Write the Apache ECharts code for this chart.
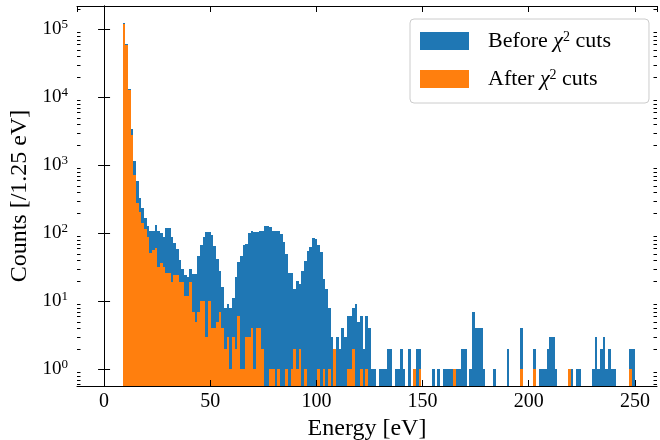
<!DOCTYPE html>
<html>
<head>
<meta charset="utf-8">
<script src="https://cdn.jsdelivr.net/npm/echarts@6/dist/echarts.min.js"></script>
<style>
  html, body { margin: 0; padding: 0; background: #fff; }
  #chart { width: 660px; height: 440px; }
</style>
</head>
<body>
<div id="chart"></div>
<script>
// histogram binning (eV)
const binStart = 8.75
const binWidth = 1.256

// counts per bin, before chi2 cuts (bin 0 starts at binStart)
const beforeCounts = [
  124000, 60000, 13200, 3400, 1150, 590, 330, 236, 167, 128,
  109, 109, 132, 109, 102, 89, 120, 120, 89, 71,
  59, 40, 30, 24, 23, 30, 25, 25, 46, 67,
  87, 104, 104, 95, 65, 42, 28, 16, 8, 9,
  8, 11, 23, 38, 46, 67, 69, 99, 108, 104,
  104, 108, 108, 128, 128, 125, 108, 108, 108, 97,
  73, 50, 26, 26, 15, 20, 18, 28, 39, 55,
  63, 85, 82, 67, 53, 21, 15, 8, 3, 2,
  3, 2, 4, 3, 6, 6, 8, 9, 5, 6,
  2, 6, 4, 1, 1, 0, 1, 1, 1, 2,
  2, 0, 1, 1, 2, 1, 0, 2, 0, 1,
  2, 2, 0, 0, 0, 0, 1, 0, 1, 0,
  1, 1, 1, 1, 1, 1, 1, 2, 2, 0,
  1, 7, 4, 4, 4, 1, 0, 0, 0, 1,
  0, 0, 0, 0, 2, 0, 0, 0, 0, 4,
  0, 0, 0, 0, 2, 0, 1, 1, 1, 2,
  3, 3, 1, 0, 0, 0, 0, 1, 1, 0,
  1, 1, 0, 0, 0, 0, 1, 3, 1, 2,
  3, 1, 2, 1, 1, 0, 0, 0, 0, 0,
  2, 2
]

// counts per bin, after chi2 cuts
const afterCounts = [
  119000, 57500, 12600, 2800, 720, 282, 208, 143, 115, 89,
  52, 57, 61, 32, 37, 32, 26, 26, 19, 24,
  24, 19, 19, 12, 12, 19, 7, 5, 7, 10,
  10, 3, 10, 4, 4, 5, 7, 4, 2, 3,
  1, 3, 2, 6, 1, 1, 3, 3, 4, 1,
  4, 4, 2, 0, 0, 1, 1, 0, 1, 0,
  0, 1, 0, 1, 2, 1, 2, 0, 1, 0,
  0, 0, 0, 1, 0, 1, 0, 1, 0, 2,
  0, 0, 0, 0, 1, 1, 2, 0, 0, 1,
  0, 1, 0, 0, 0, 0, 0, 0, 0, 0,
  0, 0, 0, 0, 0, 0, 0, 0, 0, 1,
  0, 1, 0, 0, 0, 0, 0, 0, 0, 0,
  0, 0, 0, 0, 1, 0, 0, 0, 0, 0,
  0, 0, 0, 0, 0, 0, 0, 0, 0, 0,
  0, 0, 0, 0, 0, 0, 0, 0, 0, 1,
  0, 0, 0, 0, 1, 0, 0, 0, 0, 0,
  0, 0, 0, 0, 0, 0, 0, 1, 0, 0,
  0, 0, 0, 0, 0, 0, 0, 0, 0, 0,
  0, 0, 0, 0, 0, 0, 0, 0, 0, 0,
  1, 0
]

const seriesNames = ['Before', 'After']

// minor tick positions of the log axis
const minorTicks = [
  0.6, 0.7, 0.8, 0.9,
  2, 3, 4, 5, 6, 7, 8, 9,
  20, 30, 40, 50, 60, 70, 80, 90,
  200, 300, 400, 500, 600, 700, 800, 900,
  2000, 3000, 4000, 5000, 6000, 7000, 8000, 9000,
  20000, 30000, 40000, 50000, 60000, 70000, 80000, 90000,
  200000
]

const xMin = -12.75
const xMax = 260.4
const yMin = 0.568
const yMax = 218000
const font = 'Liberation Serif'

// 直方图的数据点 [左边界, 计数]
const toBins = (counts) => {
  const out = []
  counts.forEach((c, i) => {
    if (c > 0) out.push([binStart + i * binWidth, c])
  })
  return out
}

const renderBar = (params, api) => {
  const x0 = api.value(0)
  const count = api.value(1)
  const p1 = api.coord([x0, count])
  const p2 = api.coord([x0 + binWidth, count])
  const cs = params.coordSys
  const left = Math.round(p1[0])
  const right = Math.round(p2[0])
  const top = Math.round(p1[1])
  return {
    type: 'rect',
    shape: { x: left, y: top, width: right - left, height: cs.y + cs.height - top },
    style: { fill: api.visual('color') }
  }
}

const renderMinorTick = (params, api) => {
  const cs = params.coordSys
  const y = Math.round(api.coord([0, api.value(1)])[1]) + 0.5
  const st = { stroke: '#000', lineWidth: 1 }
  return {
    type: 'group',
    children: [
      { type: 'line', shape: { x1: cs.x, y1: y, x2: cs.x + 3.5, y2: y }, style: st },
      { type: 'line', shape: { x1: cs.x + cs.width - 3.5, y1: y, x2: cs.x + cs.width, y2: y }, style: st }
    ]
  }
}

const logLabel = (v) => {
  const e = Math.round(Math.log10(v))
  if (Math.abs(Math.log10(v) - e) > 1e-6) return ''
  return '{b|10}{s|' + e + '}'
}

const axisCommon = {
  axisLine: { lineStyle: { color: '#000', width: 1 } },
  axisTick: { inside: true, length: 6, lineStyle: { color: '#000', width: 1 } },
  splitLine: { show: false },
  z: 10
}

const chart = echarts.init(document.getElementById('chart'))

const option = {
  backgroundColor: '#fff',
  animation: false,
  grid: { left: 77, right: 3, top: 6, bottom: 54, outerBoundsMode: 'none' },
  legend: {
    orient: 'vertical',
    left: 410,
    top: 19,
    padding: [11, 38, 13, 10],
    itemGap: 16,
    itemWidth: 49,
    itemHeight: 18,
    icon: 'rect',
    backgroundColor: 'rgba(255,255,255,0.8)',
    borderColor: '#cccccc',
    borderWidth: 1,
    borderRadius: 4,
    data: seriesNames,
    formatter: (name) => '{g|}{t|' + name + ' }{c|χ}{s|2}{t| cuts}',
    textStyle: {
      rich: {
        g: { width: 14 },
        t: { fontFamily: font, fontSize: 22, color: '#000', lineHeight: 22 },
        c: { fontFamily: font, fontSize: 22, fontStyle: 'italic', color: '#000', lineHeight: 22 },
        s: { fontFamily: font, fontSize: 14, color: '#000', lineHeight: 12, verticalAlign: 'top' }
      }
    }
  },
  xAxis: [
    {
      ...axisCommon,
      type: 'value',
      min: xMin,
      max: xMax,
      name: 'Energy [eV]',
      nameLocation: 'middle',
      nameGap: 31,
      nameTextStyle: { fontFamily: font, fontSize: 24, color: '#000' },
      axisLabel: {
        fontFamily: font, fontSize: 20, color: '#000', margin: 6,
        showMinLabel: false, showMaxLabel: false,
        formatter: (v) => (v % 50 === 0 ? String(v) : '')
      }
    },
    {
      ...axisCommon,
      type: 'value',
      position: 'top',
      min: xMin,
      max: xMax,
      axisLabel: { show: false }
    }
  ],
  yAxis: [
    {
      ...axisCommon,
      type: 'log',
      logBase: 10,
      min: yMin,
      max: yMax,
      name: 'Counts [/1.25 eV]',
      nameLocation: 'middle',
      nameGap: 42,
      nameRotate: 90,
      nameTextStyle: { fontFamily: font, fontSize: 24, color: '#000' },
      axisLabel: {
        margin: 9,
        showMinLabel: false, showMaxLabel: false,
        formatter: logLabel,
        rich: {
          b: { fontFamily: font, fontSize: 19, color: '#000', lineHeight: 22 },
          s: { fontFamily: font, fontSize: 13, color: '#000', lineHeight: 10, verticalAlign: 'top' }
        }
      }
    },
    {
      ...axisCommon,
      type: 'log',
      logBase: 10,
      position: 'right',
      min: yMin,
      max: yMax,
      axisLabel: { show: false }
    }
  ],
  series: [
    {
      name: seriesNames[0],
      type: 'custom',
      renderItem: renderBar,
      itemStyle: { color: '#1f77b4' },
      encode: { x: 0, y: 1 },
      data: toBins(beforeCounts),
      z: 2
    },
    {
      name: seriesNames[1],
      type: 'custom',
      renderItem: renderBar,
      itemStyle: { color: '#ff7f0e' },
      encode: { x: 0, y: 1 },
      data: toBins(afterCounts),
      z: 3
    },
    {
      type: 'custom',
      silent: true,
      renderItem: renderMinorTick,
      encode: { x: 0, y: 1 },
      data: minorTicks.map(v => [0, v]),
      z: 11
    }
  ]
}

chart.setOption(option)
</script>
</body>
</html>
